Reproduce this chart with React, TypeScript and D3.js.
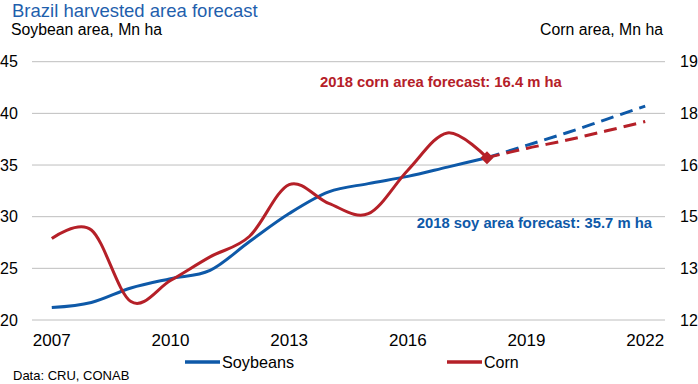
import * as d3 from "d3";

const years = d3.range(2007, 2023).map(String);
const xTickLabels = ["2007", "2010", "2013", "2016", "2019", "2022"];

// soybean area, Mn ha (left axis)
const soyActual = [21.2, 21.7, 23.1, 24.0, 24.8, 27.6, 30.3, 32.4, 33.2, 33.9, 34.8, 35.7];
const soyForecast = [35.7, 36.9, 38.1, 39.4, 40.7];

// corn area, Mn ha (right axis)
const cornActual = [14.21, 14.44, 12.5, 13.07, 13.71, 14.27, 15.67, 15.16, 14.88, 16.06, 17.07, 16.4];
const cornForecast = [16.4, 16.65, 16.87, 17.12, 17.38];

const leftTicks = [20, 25, 30, 35, 40, 45];
const rightTicks = [12, 13.4, 14.8, 16.2, 17.6, 19];

const W = 698;
const H = 384;
const BLUE = "#0E59A8";
const RED = "#B52028";
const FONT = "'Liberation Sans', Arial, sans-serif";

export default function App() {
  const x = d3.scalePoint<string>().domain(years).range([32, 665]).padding(0.5);
  const yL = d3.scaleLinear().domain([20, 45]).range([320, 61.7]);
  const yR = d3.scaleLinear().domain([12, 19]).range([320, 61.7]);

  const curve = d3.curveCatmullRom.alpha(0);
  const lineL = d3
    .line<number>()
    .x((_, i) => x(years[i])!)
    .y((d) => yL(d))
    .curve(curve);
  const lineR = d3
    .line<number>()
    .x((_, i) => x(years[i])!)
    .y((d) => yR(d))
    .curve(curve);
  const off = soyActual.length - 1;
  const lineLf = d3
    .line<number>()
    .x((_, i) => x(years[i + off])!)
    .y((d) => yL(d))
    .curve(curve);
  const lineRf = d3
    .line<number>()
    .x((_, i) => x(years[i + off])!)
    .y((d) => yR(d))
    .curve(curve);

  const dx = x(years[off])!;
  const dy = yR(cornActual[off]);

  return (
    <svg
      width={W}
      height={H}
      style={{ position: "absolute", left: 0, top: 0, background: "#fff" }}
      fontFamily={FONT}
    >
      <text x={12} y={16.5} fontSize={18.5} fill="#1F5FAD">
        Brazil harvested area forecast
      </text>
      <text x={11} y={34.5} fontSize={15.8} fill="#000">
        Soybean area, Mn ha
      </text>
      <text x={663} y={34.5} fontSize={15.8} fill="#000" textAnchor="end">
        Corn area, Mn ha
      </text>

      {leftTicks.map((t) => (
        <line key={t} x1={32} x2={665} y1={yL(t)} y2={yL(t)} stroke="#BEBEBE" strokeWidth={1} />
      ))}
      {leftTicks.map((t) => (
        <text key={t} x={0} y={yL(t) + 5.5} fontSize={16} fill="#000">
          {t}
        </text>
      ))}
      {rightTicks.map((t) => (
        <text key={t} x={680} y={yR(t) + 5.5} fontSize={16} fill="#000">
          {Math.round(t)}
        </text>
      ))}
      {xTickLabels.map((t) => (
        <text key={t} x={x(t)} y={346} fontSize={17} fill="#000" textAnchor="middle">
          {t}
        </text>
      ))}

      <path d={lineLf(soyForecast)!} fill="none" stroke={BLUE} strokeWidth={3} strokeDasharray="13 7" />
      <path d={lineRf(cornForecast)!} fill="none" stroke={RED} strokeWidth={3} strokeDasharray="13 7" />
      <path d={lineL(soyActual)!} fill="none" stroke={BLUE} strokeWidth={3} />
      <path d={lineR(cornActual)!} fill="none" stroke={RED} strokeWidth={3} />
      <path
        d={`M${dx},${dy - 6.5}L${dx + 6.5},${dy}L${dx},${dy + 6.5}L${dx - 6.5},${dy}Z`}
        fill={RED}
      />

      <text x={320} y={87} fontSize={14.8} fontWeight="bold" fill={RED}>
        2018 corn area forecast: 16.4 m ha
      </text>
      <text x={652} y={228} fontSize={14.8} fontWeight="bold" fill={BLUE} textAnchor="end">
        2018 soy area forecast: 35.7 m ha
      </text>

      <line x1={185} x2={220} y1={362} y2={362} stroke={BLUE} strokeWidth={3.5} />
      <text x={222} y={367.5} fontSize={16.2} fill="#000">
        Soybeans
      </text>
      <line x1={447} x2={482} y1={362} y2={362} stroke={RED} strokeWidth={3.5} />
      <text x={484} y={367.5} fontSize={16} fill="#000">
        Corn
      </text>

      <text x={13} y={380} fontSize={13} fill="#000">
        Data: CRU, CONAB
      </text>
    </svg>
  );
}
